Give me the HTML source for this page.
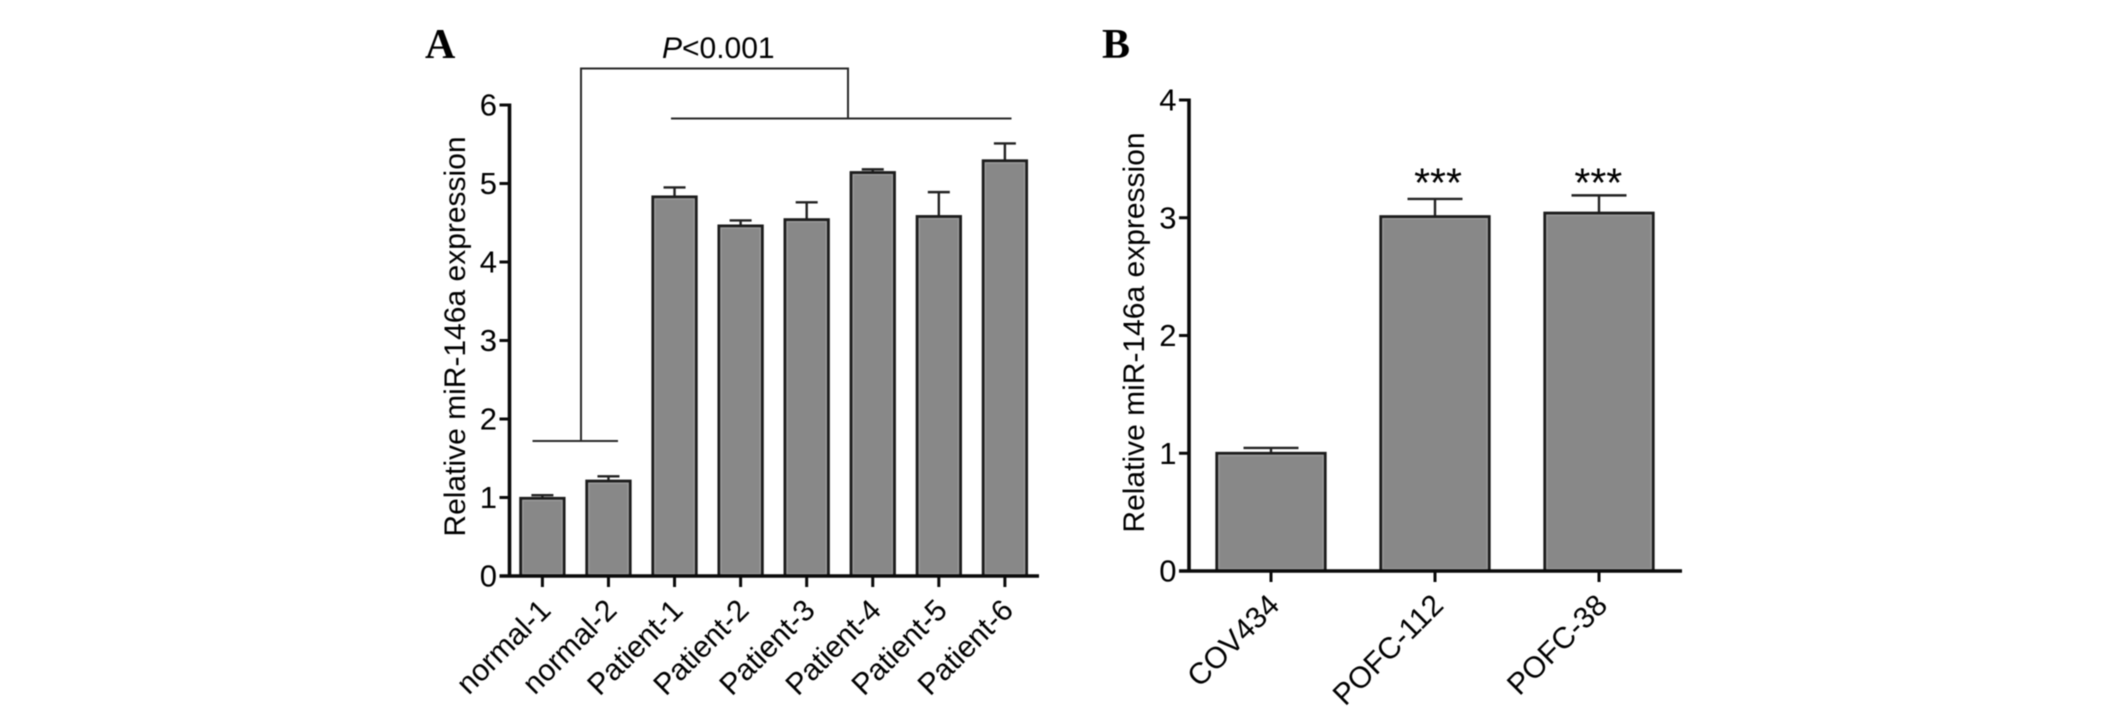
<!DOCTYPE html>
<html lang="en">
<head>
<meta charset="utf-8">
<title>Relative miR-146a expression</title>
<style>
html,body{margin:0;padding:0;background:#fff;width:2126px;height:716px;overflow:hidden}
svg{display:block;filter:blur(0.45px)}
text{font-family:"Liberation Sans",Arial,sans-serif;fill:#000}
</style>
</head>
<body>
<svg id="figure" xmlns="http://www.w3.org/2000/svg" width="2126" height="716" viewBox="0 0 2126 716">
  <rect width="2126" height="716" fill="#fff"/>
  <text x="425" y="58" style="font-family:'Liberation Serif',serif;font-weight:bold;font-size:42px;fill:#000">A</text>
  <text x="1102" y="58" style="font-family:'Liberation Serif',serif;font-weight:bold;font-size:42px;fill:#000">B</text>
  <text x="662" y="58" font-size="30"><tspan font-style="italic">P</tspan>&lt;0.001</text>
  <g id="bracket" fill="none" stroke="#2a2a2a" stroke-width="2">
    <path d="M581 441V68.5H848V118"/>
    <path d="M532.5 441H618"/>
    <path d="M671 118.5H1011.5"/>
  </g>
  <g id="chart-a"></g>
  <g id="chart-b"></g>
</svg>
<script>
const categoriesA = ['normal-1', 'normal-2', 'Patient-1', 'Patient-2', 'Patient-3', 'Patient-4', 'Patient-5', 'Patient-6'];
const valuesA = [0.99, 1.21, 4.83, 4.46, 4.54, 5.14, 4.58, 5.29];
const errorTopsA = [1.03, 1.27, 4.95, 4.53, 4.76, 5.18, 4.89, 5.51];
const ticksA = [0, 1, 2, 3, 4, 5, 6];

const categoriesB = ['COV434', 'POFC-112', 'POFC-38'];
const valuesB = [1.0, 3.01, 3.04];
const errorTopsB = [1.045, 3.16, 3.19];
const ticksB = [0, 1, 2, 3, 4];
const markersB = ['', '***', '***'];
const markerLevelsB = [0, 3.18, 3.18];

const NS = 'http://www.w3.org/2000/svg';

function el(parent, tag, attrs) {
  const node = document.createElementNS(NS, tag);
  for (const key in attrs) node.setAttribute(key, attrs[key]);
  parent.appendChild(node);
  return node;
}

function drawChart(host, o) {
  const yScale = v => o.y0 - v * o.unit;
  const xScale = i => o.x0 + i * o.step;

  o.categories.forEach((cat, i) => {
    const cx = xScale(i);
    const top = yScale(o.values[i]);
    const errTop = yScale(o.errorTops[i]);

    const err = el(host, 'path', {d: `M${cx} ${top}V${errTop}M${cx - o.cap / 2} ${errTop}H${cx + o.cap / 2}`, fill: 'none', stroke: '#222', 'stroke-width': 2.4});
    
    

    const bar = el(host, 'rect', {x: cx - o.barW / 2, y: top, width: o.barW, height: o.y0 - top, fill: '#888888', stroke: '#1c1c1c', 'stroke-width': 2.8});
    
    

    const sheen = el(host, 'rect', {x: cx - o.barW / 2 + 2.2, y: top + 2.2, width: o.barW - 4.4, height: o.y0 - top - 4.4, fill: 'none', stroke: '#9b9b9b', 'stroke-width': 1.4});
    
    

    const tick = el(host, 'path', {d: `M${cx} ${o.y0}V${o.y0 + 11}`, stroke: '#0a0a0a', 'stroke-width': 3});
    
    

    const lx = cx + o.labelDx;
    const ly = o.y0 + o.labelDy;
    const label = el(host, 'text', {x: lx, y: ly, 'font-size': o.labelSize, 'text-anchor': 'end', transform: `rotate(-45 ${lx} ${ly})`});
    label.textContent = cat;
    
    

    if (o.markers && o.markers[i]) {
      const star = el(host, 'text', {x: cx + o.markerDx[i], y: yScale(o.markerLevels[i]), 'font-size': 41, 'text-anchor': 'middle'});
      star.textContent = o.markers[i];
      
      
    }
  });

  o.ticks.forEach(t => {
    const y = yScale(t);
    const tick = el(host, 'path', {d: `M${o.axisX - 10} ${y}H${o.axisX}`, stroke: '#0a0a0a', 'stroke-width': 3});
    
    

    const label = el(host, 'text', {x: o.axisX - 12.5, y: y + 10.5, 'font-size': 31, 'text-anchor': 'end'});
    label.textContent = t;
    
    
  });

  const yAxis = el(host, 'path', {d: `M${o.axisX} ${yScale(o.ticks[o.ticks.length - 1]) - 1.5}V${o.y0}`, stroke: '#0a0a0a', 'stroke-width': 3.6, fill: 'none'});
  
  

  const xAxis = el(host, 'path', {d: `M${o.axisX - 10} ${o.y0}H${o.xEnd}`, stroke: '#0a0a0a', 'stroke-width': 3.6, fill: 'none'});
  
  

  const title = el(host, 'text', {x: o.titleX, y: o.titleY, 'font-size': 30, 'text-anchor': 'middle', transform: `rotate(-90 ${o.titleX} ${o.titleY})`});
  title.textContent = 'Relative miR-146a expression';
  
  
}

drawChart(document.getElementById('chart-a'), {
  categories: categoriesA, values: valuesA, errorTops: errorTopsA, ticks: ticksA,
  x0: 542.4, step: 66.07, barW: 43.5, cap: 22, y0: 576, unit: 78.5,
  axisX: 509.5, xEnd: 1039, titleX: 465, titleY: 336.5,
  labelSize: 30, labelDx: 10, labelDy: 36
});

drawChart(document.getElementById('chart-b'), {
  categories: categoriesB, values: valuesB, errorTops: errorTopsB, ticks: ticksB,
  markers: markersB, markerLevels: markerLevelsB, markerDx: [0, 3, -0.7],
  x0: 1271, step: 164, barW: 108.5, cap: 55, y0: 571, unit: 117.75,
  axisX: 1189, xEnd: 1682, titleX: 1144, titleY: 332.5,
  labelSize: 30, labelDx: 10, labelDy: 36
});
</script>
</body>
</html>
